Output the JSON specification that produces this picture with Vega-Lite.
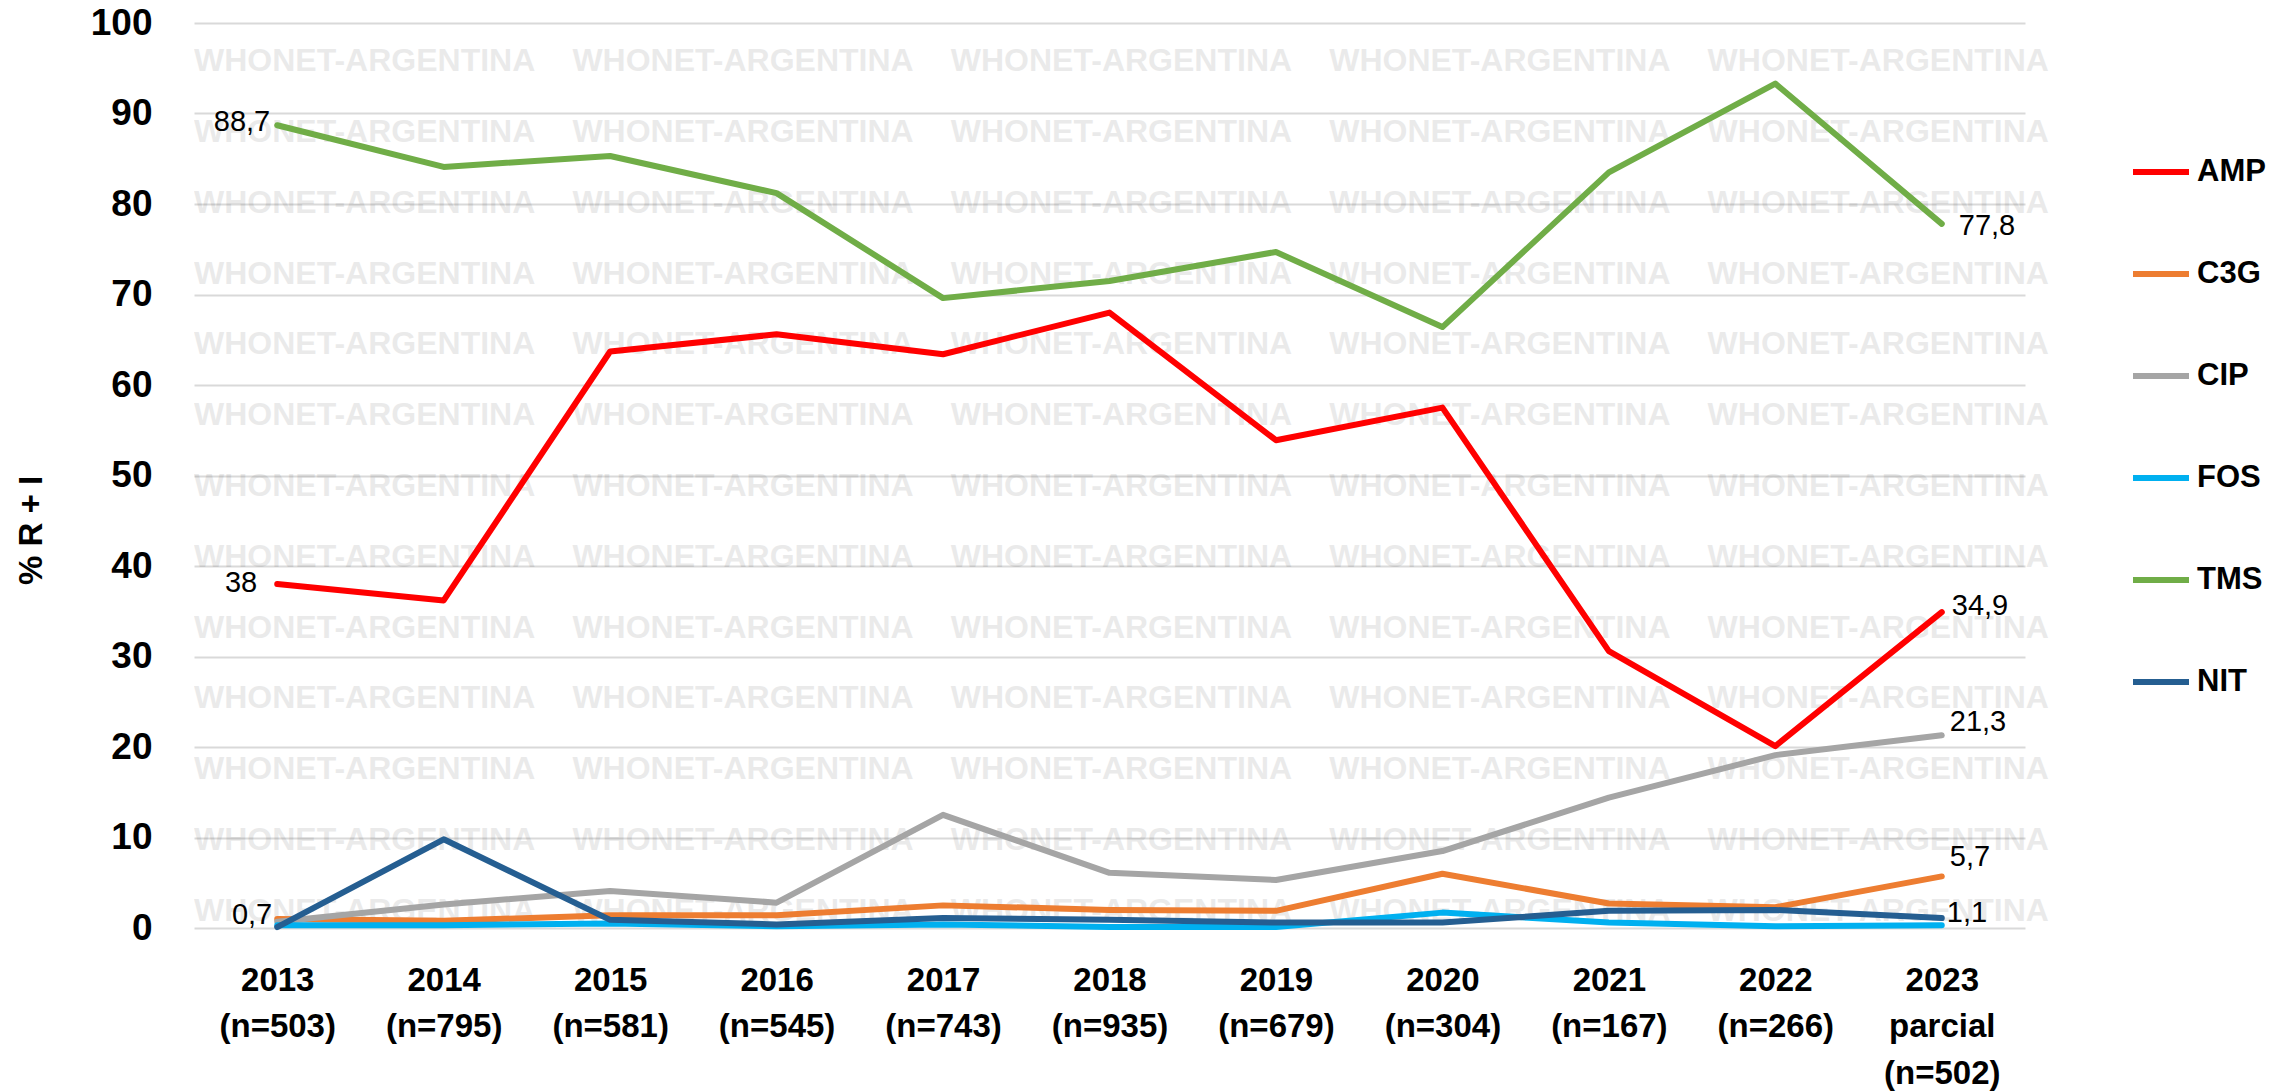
{
  "$schema": "https://vega.github.io/schema/vega-lite/v6.json",
  "width": 1831,
  "height": 905,
  "autosize": {"type": "none"},
  "padding": {"left": 194, "top": 23, "right": 259, "bottom": 164},
  "background": "white",
  "config": {
    "view": {"stroke": null},
    "font": "Liberation Sans",
    "locale": {"number": {"decimal": ",", "thousands": ".", "grouping": [3], "currency": ["$", ""]}}
  },
  "datasets": {
    "wm": [
      {"row": 1, "col": 1, "t": "WHONET-ARGENTINA"}, {"row": 1, "col": 2, "t": "WHONET-ARGENTINA"}, {"row": 1, "col": 3, "t": "WHONET-ARGENTINA"}, {"row": 1, "col": 4, "t": "WHONET-ARGENTINA"}, {"row": 1, "col": 5, "t": "WHONET-ARGENTINA"},
      {"row": 2, "col": 1, "t": "WHONET-ARGENTINA"}, {"row": 2, "col": 2, "t": "WHONET-ARGENTINA"}, {"row": 2, "col": 3, "t": "WHONET-ARGENTINA"}, {"row": 2, "col": 4, "t": "WHONET-ARGENTINA"}, {"row": 2, "col": 5, "t": "WHONET-ARGENTINA"},
      {"row": 3, "col": 1, "t": "WHONET-ARGENTINA"}, {"row": 3, "col": 2, "t": "WHONET-ARGENTINA"}, {"row": 3, "col": 3, "t": "WHONET-ARGENTINA"}, {"row": 3, "col": 4, "t": "WHONET-ARGENTINA"}, {"row": 3, "col": 5, "t": "WHONET-ARGENTINA"},
      {"row": 4, "col": 1, "t": "WHONET-ARGENTINA"}, {"row": 4, "col": 2, "t": "WHONET-ARGENTINA"}, {"row": 4, "col": 3, "t": "WHONET-ARGENTINA"}, {"row": 4, "col": 4, "t": "WHONET-ARGENTINA"}, {"row": 4, "col": 5, "t": "WHONET-ARGENTINA"},
      {"row": 5, "col": 1, "t": "WHONET-ARGENTINA"}, {"row": 5, "col": 2, "t": "WHONET-ARGENTINA"}, {"row": 5, "col": 3, "t": "WHONET-ARGENTINA"}, {"row": 5, "col": 4, "t": "WHONET-ARGENTINA"}, {"row": 5, "col": 5, "t": "WHONET-ARGENTINA"},
      {"row": 6, "col": 1, "t": "WHONET-ARGENTINA"}, {"row": 6, "col": 2, "t": "WHONET-ARGENTINA"}, {"row": 6, "col": 3, "t": "WHONET-ARGENTINA"}, {"row": 6, "col": 4, "t": "WHONET-ARGENTINA"}, {"row": 6, "col": 5, "t": "WHONET-ARGENTINA"},
      {"row": 7, "col": 1, "t": "WHONET-ARGENTINA"}, {"row": 7, "col": 2, "t": "WHONET-ARGENTINA"}, {"row": 7, "col": 3, "t": "WHONET-ARGENTINA"}, {"row": 7, "col": 4, "t": "WHONET-ARGENTINA"}, {"row": 7, "col": 5, "t": "WHONET-ARGENTINA"},
      {"row": 8, "col": 1, "t": "WHONET-ARGENTINA"}, {"row": 8, "col": 2, "t": "WHONET-ARGENTINA"}, {"row": 8, "col": 3, "t": "WHONET-ARGENTINA"}, {"row": 8, "col": 4, "t": "WHONET-ARGENTINA"}, {"row": 8, "col": 5, "t": "WHONET-ARGENTINA"},
      {"row": 9, "col": 1, "t": "WHONET-ARGENTINA"}, {"row": 9, "col": 2, "t": "WHONET-ARGENTINA"}, {"row": 9, "col": 3, "t": "WHONET-ARGENTINA"}, {"row": 9, "col": 4, "t": "WHONET-ARGENTINA"}, {"row": 9, "col": 5, "t": "WHONET-ARGENTINA"},
      {"row": 10, "col": 1, "t": "WHONET-ARGENTINA"}, {"row": 10, "col": 2, "t": "WHONET-ARGENTINA"}, {"row": 10, "col": 3, "t": "WHONET-ARGENTINA"}, {"row": 10, "col": 4, "t": "WHONET-ARGENTINA"}, {"row": 10, "col": 5, "t": "WHONET-ARGENTINA"},
      {"row": 11, "col": 1, "t": "WHONET-ARGENTINA"}, {"row": 11, "col": 2, "t": "WHONET-ARGENTINA"}, {"row": 11, "col": 3, "t": "WHONET-ARGENTINA"}, {"row": 11, "col": 4, "t": "WHONET-ARGENTINA"}, {"row": 11, "col": 5, "t": "WHONET-ARGENTINA"},
      {"row": 12, "col": 1, "t": "WHONET-ARGENTINA"}, {"row": 12, "col": 2, "t": "WHONET-ARGENTINA"}, {"row": 12, "col": 3, "t": "WHONET-ARGENTINA"}, {"row": 12, "col": 4, "t": "WHONET-ARGENTINA"}, {"row": 12, "col": 5, "t": "WHONET-ARGENTINA"},
      {"row": 13, "col": 1, "t": "WHONET-ARGENTINA"}, {"row": 13, "col": 2, "t": "WHONET-ARGENTINA"}, {"row": 13, "col": 3, "t": "WHONET-ARGENTINA"}, {"row": 13, "col": 4, "t": "WHONET-ARGENTINA"}, {"row": 13, "col": 5, "t": "WHONET-ARGENTINA"}
    ],
    "series": [
      {"year": "2013|(n=503)", "ab": "AMP", "v": 38},
      {"year": "2014|(n=795)", "ab": "AMP", "v": 36.2},
      {"year": "2015|(n=581)", "ab": "AMP", "v": 63.7},
      {"year": "2016|(n=545)", "ab": "AMP", "v": 65.6},
      {"year": "2017|(n=743)", "ab": "AMP", "v": 63.4},
      {"year": "2018|(n=935)", "ab": "AMP", "v": 68.0},
      {"year": "2019|(n=679)", "ab": "AMP", "v": 53.9},
      {"year": "2020|(n=304)", "ab": "AMP", "v": 57.5},
      {"year": "2021|(n=167)", "ab": "AMP", "v": 30.6},
      {"year": "2022|(n=266)", "ab": "AMP", "v": 20.1},
      {"year": "2023|parcial|(n=502)", "ab": "AMP", "v": 34.9},
      {"year": "2013|(n=503)", "ab": "C3G", "v": 1.0},
      {"year": "2014|(n=795)", "ab": "C3G", "v": 0.8},
      {"year": "2015|(n=581)", "ab": "C3G", "v": 1.4},
      {"year": "2016|(n=545)", "ab": "C3G", "v": 1.4},
      {"year": "2017|(n=743)", "ab": "C3G", "v": 2.5},
      {"year": "2018|(n=935)", "ab": "C3G", "v": 2.0},
      {"year": "2019|(n=679)", "ab": "C3G", "v": 1.9},
      {"year": "2020|(n=304)", "ab": "C3G", "v": 6.0},
      {"year": "2021|(n=167)", "ab": "C3G", "v": 2.7},
      {"year": "2022|(n=266)", "ab": "C3G", "v": 2.3},
      {"year": "2023|parcial|(n=502)", "ab": "C3G", "v": 5.7},
      {"year": "2013|(n=503)", "ab": "CIP", "v": 0.7},
      {"year": "2014|(n=795)", "ab": "CIP", "v": 2.6},
      {"year": "2015|(n=581)", "ab": "CIP", "v": 4.1},
      {"year": "2016|(n=545)", "ab": "CIP", "v": 2.8},
      {"year": "2017|(n=743)", "ab": "CIP", "v": 12.5},
      {"year": "2018|(n=935)", "ab": "CIP", "v": 6.1},
      {"year": "2019|(n=679)", "ab": "CIP", "v": 5.3},
      {"year": "2020|(n=304)", "ab": "CIP", "v": 8.5},
      {"year": "2021|(n=167)", "ab": "CIP", "v": 14.4},
      {"year": "2022|(n=266)", "ab": "CIP", "v": 19.1},
      {"year": "2023|parcial|(n=502)", "ab": "CIP", "v": 21.3},
      {"year": "2013|(n=503)", "ab": "FOS", "v": 0.3},
      {"year": "2014|(n=795)", "ab": "FOS", "v": 0.3},
      {"year": "2015|(n=581)", "ab": "FOS", "v": 0.5},
      {"year": "2016|(n=545)", "ab": "FOS", "v": 0.2},
      {"year": "2017|(n=743)", "ab": "FOS", "v": 0.4},
      {"year": "2018|(n=935)", "ab": "FOS", "v": 0.1},
      {"year": "2019|(n=679)", "ab": "FOS", "v": 0.1},
      {"year": "2020|(n=304)", "ab": "FOS", "v": 1.7},
      {"year": "2021|(n=167)", "ab": "FOS", "v": 0.6},
      {"year": "2022|(n=266)", "ab": "FOS", "v": 0.2},
      {"year": "2023|parcial|(n=502)", "ab": "FOS", "v": 0.3},
      {"year": "2013|(n=503)", "ab": "TMS", "v": 88.7},
      {"year": "2014|(n=795)", "ab": "TMS", "v": 84.1},
      {"year": "2015|(n=581)", "ab": "TMS", "v": 85.3},
      {"year": "2016|(n=545)", "ab": "TMS", "v": 81.2},
      {"year": "2017|(n=743)", "ab": "TMS", "v": 69.6},
      {"year": "2018|(n=935)", "ab": "TMS", "v": 71.5},
      {"year": "2019|(n=679)", "ab": "TMS", "v": 74.7},
      {"year": "2020|(n=304)", "ab": "TMS", "v": 66.4},
      {"year": "2021|(n=167)", "ab": "TMS", "v": 83.5},
      {"year": "2022|(n=266)", "ab": "TMS", "v": 93.3},
      {"year": "2023|parcial|(n=502)", "ab": "TMS", "v": 77.8},
      {"year": "2013|(n=503)", "ab": "NIT", "v": 0.1},
      {"year": "2014|(n=795)", "ab": "NIT", "v": 9.8},
      {"year": "2015|(n=581)", "ab": "NIT", "v": 0.9},
      {"year": "2016|(n=545)", "ab": "NIT", "v": 0.4},
      {"year": "2017|(n=743)", "ab": "NIT", "v": 1.1},
      {"year": "2018|(n=935)", "ab": "NIT", "v": 0.9},
      {"year": "2019|(n=679)", "ab": "NIT", "v": 0.6},
      {"year": "2020|(n=304)", "ab": "NIT", "v": 0.6},
      {"year": "2021|(n=167)", "ab": "NIT", "v": 1.9},
      {"year": "2022|(n=266)", "ab": "NIT", "v": 2.0},
      {"year": "2023|parcial|(n=502)", "ab": "NIT", "v": 1.1}
    ]
  },
  "layer": [
    {
      "data": {"name": "wm"},
      "mark": {"type": "text", "font": "Liberation Sans", "fontWeight": "bold", "fontSize": 32, "color": "#000000", "opacity": 0.08, "align": "left", "baseline": "middle"},
      "encoding": {
        "x": {"field": "col", "type": "ordinal", "axis": null, "bandPosition": 0, "scale": {"type": "band", "range": [0, 1892], "paddingInner": 0, "paddingOuter": 0}},
        "y": {"field": "row", "type": "ordinal", "axis": null, "bandPosition": 0.5, "scale": {"type": "band", "range": [3, 923], "paddingInner": 0, "paddingOuter": 0}},
        "text": {"field": "t"}
      }
    },
    {
      "data": {"name": "series"},
      "encoding": {
        "x": {
          "field": "year", "type": "ordinal", "sort": null,
          "scale": {"type": "point", "padding": 0.5},
          "axis": {
            "title": null, "orient": "bottom", "labelExpr": "split(datum.label, '|')",
            "labelFont": "Liberation Sans", "labelFontSize": 33, "labelFontWeight": "bold", "labelColor": "#000000",
            "labelPadding": 36, "labelLineHeight": 46.5, "labelAngle": 0, "labelBaseline": "top",
            "ticks": false, "domain": false, "grid": false
          }
        },
        "y": {
          "field": "v", "type": "quantitative",
          "scale": {"domain": [0, 100], "nice": false},
          "axis": {
            "title": "% R + I", "orient": "left", "values": [0, 10, 20, 30, 40, 50, 60, 70, 80, 90, 100],
            "labelFont": "Liberation Sans", "labelFontSize": 37, "labelFontWeight": "bold", "labelColor": "#000000",
            "labelPadding": 42, "ticks": false, "domain": false,
            "grid": true, "gridColor": "#D9D9D9", "gridWidth": 2,
            "titleFont": "Liberation Sans", "titleFontSize": 33, "titleFontWeight": "bold", "titleColor": "#000000",
            "titleAngle": -90, "titleX": -163, "titleY": 507, "titleAlign": "center", "titleBaseline": "middle"
          }
        }
      },
      "layer": [
        {
          "mark": {"type": "line", "strokeWidth": 6, "strokeCap": "round", "strokeJoin": "round"},
          "encoding": {
            "color": {
              "field": "ab", "type": "nominal",
              "scale": {"domain": ["AMP", "C3G", "CIP", "FOS", "TMS", "NIT"], "range": ["#FF0000", "#ED7D31", "#A5A5A5", "#00B0F0", "#70AD47", "#255E91"]},
              "legend": {
                "orient": "none", "legendX": 1936, "legendY": 118, "title": null, "direction": "vertical",
                "symbolType": "stroke", "symbolSize": 3136, "symbolStrokeWidth": 6,
                "labelFont": "Liberation Sans", "labelFontSize": 31, "labelFontWeight": "bold", "labelColor": "#000000",
                "labelOffset": 5, "rowPadding": 56, "padding": 0
              }
            }
          }
        },
        {
          "transform": [{"filter": "indexof(datum.year, '2013') == 0 && datum.ab == 'TMS'"}],
          "mark": {"type": "text", "font": "Liberation Sans", "fontSize": 29, "color": "#000000", "align": "right", "baseline": "middle", "dx": -7, "dy": -3},
          "encoding": {"text": {"field": "v", "type": "quantitative", "format": ".1~f"}}
        },
        {
          "transform": [{"filter": "indexof(datum.year, '2013') == 0 && datum.ab == 'AMP'"}],
          "mark": {"type": "text", "font": "Liberation Sans", "fontSize": 29, "color": "#000000", "align": "right", "baseline": "middle", "dx": -20, "dy": -1},
          "encoding": {"text": {"field": "v", "type": "quantitative", "format": ".1~f"}}
        },
        {
          "transform": [{"filter": "indexof(datum.year, '2013') == 0 && datum.ab == 'CIP'"}],
          "mark": {"type": "text", "font": "Liberation Sans", "fontSize": 29, "color": "#000000", "align": "right", "baseline": "middle", "dx": -5, "dy": -7},
          "encoding": {"text": {"field": "v", "type": "quantitative", "format": ".1~f"}}
        },
        {
          "transform": [{"filter": "indexof(datum.year, '2023') == 0 && datum.ab == 'TMS'"}],
          "mark": {"type": "text", "font": "Liberation Sans", "fontSize": 29, "color": "#000000", "align": "left", "baseline": "middle", "dx": 17, "dy": 2},
          "encoding": {"text": {"field": "v", "type": "quantitative", "format": ".1~f"}}
        },
        {
          "transform": [{"filter": "indexof(datum.year, '2023') == 0 && datum.ab == 'AMP'"}],
          "mark": {"type": "text", "font": "Liberation Sans", "fontSize": 29, "color": "#000000", "align": "left", "baseline": "middle", "dx": 10, "dy": -6},
          "encoding": {"text": {"field": "v", "type": "quantitative", "format": ".1~f"}}
        },
        {
          "transform": [{"filter": "indexof(datum.year, '2023') == 0 && datum.ab == 'CIP'"}],
          "mark": {"type": "text", "font": "Liberation Sans", "fontSize": 29, "color": "#000000", "align": "left", "baseline": "middle", "dx": 8, "dy": -13},
          "encoding": {"text": {"field": "v", "type": "quantitative", "format": ".1~f"}}
        },
        {
          "transform": [{"filter": "indexof(datum.year, '2023') == 0 && datum.ab == 'C3G'"}],
          "mark": {"type": "text", "font": "Liberation Sans", "fontSize": 29, "color": "#000000", "align": "left", "baseline": "middle", "dx": 8, "dy": -19},
          "encoding": {"text": {"field": "v", "type": "quantitative", "format": ".1~f"}}
        },
        {
          "transform": [{"filter": "indexof(datum.year, '2023') == 0 && datum.ab == 'NIT'"}],
          "mark": {"type": "text", "font": "Liberation Sans", "fontSize": 29, "color": "#000000", "align": "left", "baseline": "middle", "dx": 5, "dy": -5},
          "encoding": {"text": {"field": "v", "type": "quantitative", "format": ".1~f"}}
        }
      ]
    }
  ],
  "resolve": {"scale": {"x": "independent", "y": "independent"}, "axis": {"x": "independent", "y": "independent"}}
}
